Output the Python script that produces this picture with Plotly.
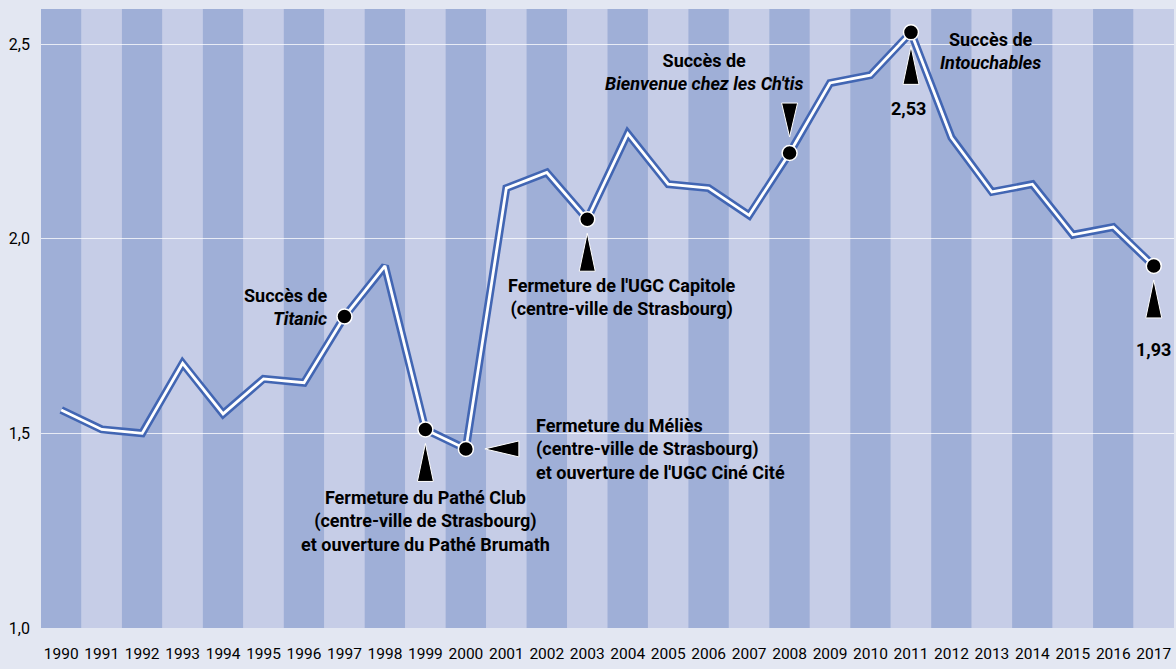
import plotly.graph_objects as go

years = list(range(1990, 2018))
values = [1.56, 1.51, 1.50, 1.68, 1.55, 1.64, 1.63, 1.80, 1.93, 1.51,
          1.46, 2.13, 2.17, 2.05, 2.27, 2.14, 2.13, 2.06, 2.22, 2.40,
          2.42, 2.53, 2.26, 2.12, 2.14, 2.01, 2.03, 1.93]
marked_years = [1997, 1999, 2000, 2003, 2008, 2011, 2017]
y_ticks = [1.0, 1.5, 2.0, 2.5]
y_tick_labels = ["1,0", "1,5", "2,0", "2,5"]

FONT = "Roboto, 'Liberation Sans', sans-serif"
DARK = "#9fafd7"
LIGHT = "#c6cde7"
BG = "#e3e7f2"
BLUE = "#4266b3"

val = dict(zip(years, values))
xidx = {y: i for i, y in enumerate(years)}

fig = go.Figure()

# alternating background bands
shapes = []
for i, y in enumerate(years):
    shapes.append(dict(type="rect", xref="x", yref="paper", x0=i - 0.5, x1=i + 0.5,
                       y0=0, y1=1, fillcolor=DARK if i % 2 == 0 else LIGHT,
                       line=dict(width=0), layer="below"))

# triangles (pointers) in pixel units relative to the marked points
def tri(year, direction):
    x = xidx[year]
    v = val[year]
    if direction == "up":      # below marker, pointing up
        path = "M 0,-14 L -8,-52 L 8,-52 Z"
    elif direction == "down":  # above marker, pointing down
        path = "M 0,16 L -8,50 L 8,50 Z"
    else:                      # right of marker, pointing left
        path = "M 19,0 L 53,8 L 53,-8 Z"
    return dict(type="path", xref="x", yref="y", xsizemode="pixel", ysizemode="pixel",
                xanchor=x, yanchor=v, path=path, fillcolor="black",
                line=dict(color="white", width=1), layer="above")

shapes += [tri(1999, "up"), tri(2000, "left"), tri(2003, "up"),
           tri(2008, "down"), tri(2011, "up"), tri(2017, "up")]

xs = [xidx[y] for y in years]
fig.add_trace(go.Scatter(x=xs, y=values, mode="lines",
                         line=dict(color=BLUE, width=8), hoverinfo="skip"))
fig.add_trace(go.Scatter(x=xs, y=values, mode="lines",
                         line=dict(color="white", width=2.8), hoverinfo="skip"))
fig.add_trace(go.Scatter(x=[xidx[y] for y in marked_years], y=[val[y] for y in marked_years],
                         mode="markers",
                         marker=dict(color="black", size=15, line=dict(color="white", width=1.5)),
                         hoverinfo="skip"))

def ann(year, text, xshift, yshift, xanchor="center", yanchor="middle", align="center"):
    return dict(x=xidx[year], y=val[year], xref="x", yref="y", text=text, showarrow=False,
                xshift=xshift, yshift=yshift, xanchor=xanchor, yanchor=yanchor, align=align,
                font=dict(family=FONT, size=18, color="black"))

annotations = [
    ann(1997, "<b>Succès de</b><br><b><i>Titanic</i></b>", -15, 10, "right", "middle", "right"),
    ann(1999, "<b>Fermeture du Pathé Club</b><br><b>(centre-ville de Strasbourg)</b><br><b>et ouverture du Pathé Brumath</b>",
        0, -56, "center", "top", "center"),
    ann(2000, "<b>Fermeture du Méliès</b><br><b>(centre-ville de Strasbourg)</b><br><b>et ouverture de l'UGC Ciné Cité</b>",
        68, 0, "left", "middle", "left"),
    ann(2003, "<b>Fermeture de l'UGC Capitole</b><br><b>(centre-ville de Strasbourg)</b>",
        35, -54, "center", "top", "center"),
    ann(2008, "<b>Succès de</b><br><b><i>Bienvenue chez les Ch'tis</i></b>",
        -86, 57, "center", "bottom", "center"),
    ann(2011, "<b>Succès de</b><br><b><i>Intouchables</i></b>", 80, -19, "center", "middle", "center"),
    ann(2011, "<b>2,53</b>", -2, -76, "center", "middle", "center"),
    ann(2017, "<b>1,93</b>", 0, -84, "center", "middle", "center"),
]

fig.update_layout(
    width=1176, height=669,
    margin=dict(l=41, r=2, t=9, b=41),
    paper_bgcolor=BG, plot_bgcolor=LIGHT,
    showlegend=False,
    shapes=shapes,
    annotations=annotations,
    font=dict(family=FONT, size=16, color="black"),
    xaxis=dict(range=[-0.5, len(years) - 0.5], tickvals=xs, ticktext=[str(y) for y in years],
               showgrid=False, zeroline=False, showline=False, ticks="", fixedrange=True,
               ticklabelstandoff=14,
               tickfont=dict(family=FONT, size=15.5, color="black")),
    yaxis=dict(range=[1.0, 2.59], tickvals=y_ticks, ticktext=y_tick_labels,
               showgrid=True, gridcolor="rgba(255,255,255,0.75)", gridwidth=1.2,
               zeroline=False, showline=False, ticks="", ticklabelstandoff=10,
               tickfont=dict(family=FONT, size=16, color="black")),
)

fig.write_html("out.html", config={"displayModeBar": False},
               post_script="document.body.style.margin='0';document.body.style.overflow='hidden';")
